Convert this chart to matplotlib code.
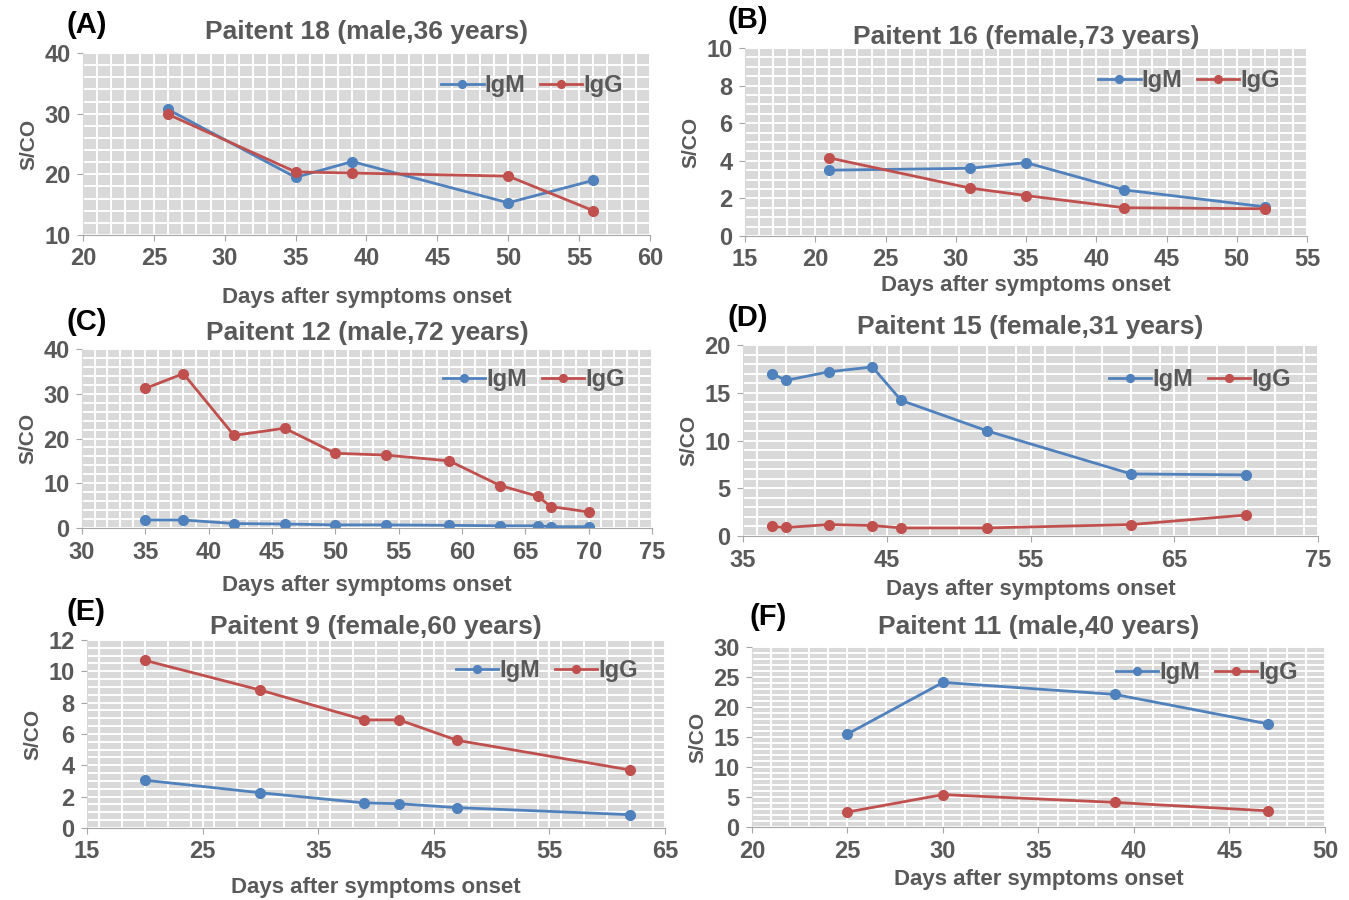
import numpy as np
import matplotlib
matplotlib.use("Agg")
import matplotlib.pyplot as plt
from matplotlib.ticker import MultipleLocator, FixedLocator

plt.rcParams['font.family'] = ['Liberation Sans', 'DejaVu Sans']

BLUE = "#4F81BD"
RED = "#C0504D"
GREY = "#595959"

# Panel A - Paitent 18
a_igm_x = [26, 35, 39, 50, 56]
a_igm_y = [30.7, 19.5, 22.1, 15.3, 19.0]
a_igg_x = [26, 35, 39, 50, 56]
a_igg_y = [29.9, 20.4, 20.2, 19.7, 14.0]

# Panel B - Paitent 16
b_igm_x = [21, 31, 35, 42, 52]
b_igm_y = [3.5, 3.6, 3.9, 2.45, 1.55]
b_igg_x = [21, 31, 35, 42, 52]
b_igg_y = [4.15, 2.55, 2.15, 1.5, 1.45]

# Panel C - Paitent 12
c_igm_x = [35, 38, 42, 46, 50, 54, 59, 63, 66, 67, 70]
c_igm_y = [1.8, 1.8, 1.0, 0.9, 0.7, 0.7, 0.6, 0.5, 0.5, 0.3, 0.3]
c_igg_x = [35, 38, 42, 46, 50, 54, 59, 63, 66, 67, 70]
c_igg_y = [31.2, 34.5, 20.7, 22.3, 16.7, 16.3, 15.0, 9.5, 7.1, 4.8, 3.6]

# Panel D - Paitent 15
d_igm_x = [37, 38, 41, 44, 46, 52, 62, 70]
d_igm_y = [17.0, 16.3, 17.2, 17.7, 14.2, 11.0, 6.5, 6.4]
d_igg_x = [37, 38, 41, 44, 46, 52, 62, 70]
d_igg_y = [1.0, 0.9, 1.2, 1.1, 0.85, 0.85, 1.2, 2.2]

# Panel E - Paitent 9
e_igm_x = [20, 30, 39, 42, 47, 62]
e_igm_y = [3.05, 2.25, 1.6, 1.55, 1.3, 0.85]
e_igg_x = [20, 30, 39, 42, 47, 62]
e_igg_y = [10.7, 8.8, 6.9, 6.9, 5.6, 3.7]

# Panel F - Paitent 11
f_igm_x = [25, 30, 39, 47]
f_igm_y = [15.5, 24.1, 22.1, 17.2]
f_igg_x = [25, 30, 39, 47]
f_igg_y = [2.5, 5.4, 4.1, 2.7]

panels = [
    # letter, title, igm, igg, xlim, xstep, xminor, ylim, ystep, yminor, rect
    ("(A)", "Paitent 18 (male,36 years)", (a_igm_x, a_igm_y), (a_igg_x, a_igg_y),
     (20, 60), 5, 1, (10, 40), 10, 2, [0.0615, 0.739, 0.4203, 0.202]),
    ("(B)", "Paitent 16 (female,73 years)", (b_igm_x, b_igm_y), (b_igg_x, b_igg_y),
     (15, 55), 5, 1, (0, 10), 2, 0.5, [0.5523, 0.7378, 0.4166, 0.2089]),
    ("(C)", "Paitent 12 (male,72 years)", (c_igm_x, c_igm_y), (c_igg_x, c_igg_y),
     (30, 75), 5, 1, (0, 40), 10, 2, [0.0608, 0.4133, 0.4225, 0.1989]),
    ("(D)", "Paitent 15 (female,31 years)", (d_igm_x, d_igm_y), (d_igg_x, d_igg_y),
     (35, 75), 10, 2, (0, 20), 5, 1, [0.5508, 0.4044, 0.4262, 0.2123]),
    ("(E)", "Paitent 9 (female,60 years)", (e_igm_x, e_igm_y), (e_igg_x, e_igg_y),
     (15, 65), 10, 2, (0, 12), 2, 0.5, [0.0645, 0.08, 0.4285, 0.2089]),
    ("(F)", "Paitent 11 (male,40 years)", (f_igm_x, f_igm_y), (f_igg_x, f_igg_y),
     (20, 50), 5, 1, (0, 30), 5, 1, [0.5574, 0.0811, 0.4248, 0.2]),
]

# letter x, letter y, title y, xlabel y (pixels), legend anchor y (axes fraction)
text_pos = [
    (67, 25, 32, 298, 1.0),
    (727, 20, 37, 285, 1.0),
    (67, 322, 333, 585, 1.01),
    (727, 318, 327, 590, 0.99),
    (67, 612, 627, 888, 1.01),
    (750, 617, 627, 880, 1.04),
]

W, H = 1349, 900
fig = plt.figure(figsize=(W / 100, H / 100), dpi=100)

for (letter, title, igm, igg, xlim, xstep, xminor, ylim, ystep, yminor, rect), \
        (lx, ly, ty, xy, legy) in zip(panels, text_pos):
    ax = fig.add_axes(rect)
    ax.set_facecolor("#D9D9D9")
    ax.set_xlim(*xlim)
    ax.set_ylim(*ylim)
    ax.xaxis.set_major_locator(FixedLocator(np.arange(xlim[0], xlim[1] + 0.01, xstep)))
    ax.yaxis.set_major_locator(FixedLocator(np.arange(ylim[0], ylim[1] + 0.01, ystep)))
    ax.xaxis.set_minor_locator(MultipleLocator(xminor))
    ax.yaxis.set_minor_locator(MultipleLocator(yminor))
    ax.grid(which="both", color="white", linewidth=1.4)
    ax.set_axisbelow(True)
    ax.tick_params(which="minor", length=0)
    ax.tick_params(which="major", length=4, color="#A6A6A6", labelcolor=GREY,
                   labelsize=17, pad=5)
    for lab in ax.get_xticklabels() + ax.get_yticklabels():
        lab.set_fontweight("bold")
    for side in ["top", "right"]:
        ax.spines[side].set_visible(False)
    ax.spines["left"].set_color("#D9D9D9")
    ax.spines["bottom"].set_color("#A6A6A6")

    ax.plot(igm[0], igm[1], color=BLUE, marker="o", markersize=7, linewidth=2, label="IgM")
    ax.plot(igg[0], igg[1], color=RED, marker="o", markersize=7, linewidth=2, label="IgG")

    leg = ax.legend(loc="upper right", ncol=2, frameon=False, fontsize=17,
                    handlelength=1.8, handletextpad=0.05, columnspacing=0.6,
                    markerscale=0.8, bbox_to_anchor=(0.99, legy))
    for t in leg.get_texts():
        t.set_color(GREY)
        t.set_fontweight("bold")

    x0 = rect[0] + rect[2] / 2
    fig.text(x0, 1 - ty / H, title, ha="center", va="center", fontsize=19,
             fontweight="bold", color=GREY)
    fig.text(x0, 1 - xy / H, "Days after symptoms onset", ha="center", va="center",
             fontsize=16, fontweight="bold", color=GREY)
    fig.text(lx / W, 1 - ly / H, letter, ha="left", va="center", fontsize=21,
             fontweight="bold", color="black")
    ax.set_ylabel("S/CO", fontsize=15, fontweight="bold", color=GREY, labelpad=4)

fig.savefig("out.png", dpi=100)
